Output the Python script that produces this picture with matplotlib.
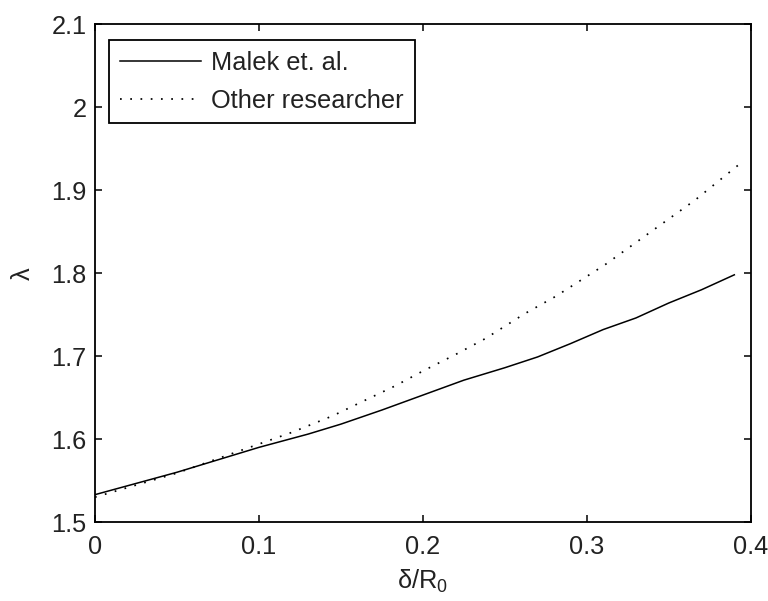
import matplotlib
matplotlib.use("Agg")
import matplotlib.pyplot as plt

# λ versus δ/R0 for the two models
x_malek = [0.00, 0.05, 0.10, 0.13, 0.15, 0.175, 0.20, 0.225, 0.25, 0.27,
           0.29, 0.31, 0.33, 0.35, 0.37, 0.39]
lam_malek = [1.533, 1.560, 1.590, 1.606, 1.618, 1.635, 1.653, 1.671, 1.686,
             1.699, 1.715, 1.732, 1.746, 1.764, 1.780, 1.798]

x_other = [0.00, 0.05, 0.10, 0.12, 0.145, 0.165, 0.183, 0.20, 0.22, 0.238,
           0.25, 0.262, 0.281, 0.311, 0.342, 0.366, 0.396]
lam_other = [1.530, 1.559, 1.594, 1.608, 1.628, 1.647, 1.664, 1.682, 1.702,
             1.721, 1.736, 1.751, 1.772, 1.810, 1.854, 1.888, 1.936]

labels = ["Malek et. al.", "Other researcher"]
xticks = [0, 0.1, 0.2, 0.3, 0.4]
yticks = [1.5, 1.6, 1.7, 1.8, 1.9, 2.0, 2.1]
xtick_labels = ["0", "0.1", "0.2", "0.3", "0.4"]
ytick_labels = ["1.5", "1.6", "1.7", "1.8", "1.9", "2", "2.1"]

plt.rcParams["font.family"] = ["Liberation Sans", "DejaVu Sans"]
plt.rcParams["mathtext.fontset"] = "custom"
plt.rcParams["mathtext.rm"] = "Liberation Sans"
plt.rcParams["mathtext.it"] = "Liberation Sans"

fs = 18.3
fig = plt.figure(figsize=(7.68, 6.01), dpi=100)
ax = fig.add_axes([0.1237, 0.1314, 0.9775 - 0.1237, 0.9596 - 0.1314])

ax.plot(x_malek, lam_malek, color="black", lw=1.1, label=labels[0])
ax.plot(x_other, lam_other, color="black", lw=1.25,
        linestyle=(0, (1, 4.9)), label=labels[1])

ax.set_xlim(0, 0.4)
ax.set_ylim(1.5, 2.1)
ax.set_xticks(xticks)
ax.set_xticklabels(xtick_labels)
ax.set_yticks(yticks)
ax.set_yticklabels(ytick_labels)

for s in ax.spines.values():
    s.set_linewidth(1.3)
    s.set_color("black")

ax.tick_params(axis="both", direction="in", length=5, width=1.1,
               top=True, right=True, labelsize=fs, colors="black",
               labelcolor="#222222")
ax.tick_params(axis="x", pad=9)
ax.tick_params(axis="y", pad=6)

ax.set_xlabel(r"$\mathregular{\delta/R_0}$", fontsize=fs, labelpad=7,
              color="#222222")
ax.set_ylabel("λ", fontsize=fs, labelpad=12, color="#222222")

leg = ax.legend(loc="upper left", bbox_to_anchor=(0.0214, 0.9685),
                borderaxespad=0, fontsize=fs, frameon=True, fancybox=False,
                edgecolor="black", framealpha=1, handlelength=3.2,
                handletextpad=0.4, borderpad=0.42, labelspacing=0.55)
leg.get_frame().set_linewidth(1.3)
for t in leg.get_texts():
    t.set_color("#222222")

fig.savefig("out.png", dpi=100, facecolor="white")
